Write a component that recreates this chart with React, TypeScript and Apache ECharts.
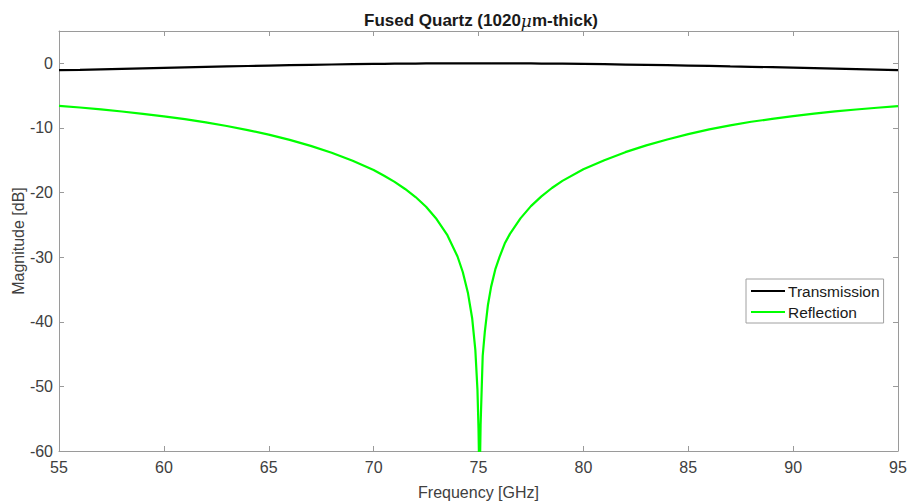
import React, { useEffect, useRef } from "react";
import * as echarts from "echarts";

const titleText = "Fused Quartz (1020{mu|μ}m-thick)";
const xName = "Frequency [GHz]";
const yName = "Magnitude [dB]";
const seriesNames = ["Transmission", "Reflection"];

const freq = [
  55, 56, 57, 58, 59, 60, 61, 62, 63, 64, 65, 66, 67, 68, 69, 70, 70.5, 71, 71.5, 72,
  72.5, 73, 73.5, 74, 74.25, 74.5, 74.7, 74.85, 74.95, 75.0, 75.05, 75.1, 75.2, 75.3,
  75.45, 75.6, 75.8, 76, 76.25, 76.5, 77, 77.5, 78, 78.5, 79, 80, 81, 82, 83, 84, 85, 86,
  87, 88, 89, 90, 91, 92, 93, 94, 95,
];

const reflection = [
  -6.6, -6.84, -7.13, -7.46, -7.83, -8.2, -8.65, -9.15, -9.7, -10.33, -11.03, -11.85, -12.78,
  -13.84, -15.09, -16.5, -17.4, -18.35, -19.45, -20.7, -22.2, -24.1, -26.5, -29.9, -32.3,
  -35.6, -39.5, -44.4, -50.5, -56.5, -66, -56, -45.3, -41.6, -37.4, -34.6, -31.9, -30.0,
  -27.9, -26.4, -24.0, -22.1, -20.6, -19.3, -18.2, -16.4, -15.0, -13.75, -12.7, -11.8,
  -10.95, -10.22, -9.6, -9.05, -8.6, -8.18, -7.8, -7.45, -7.15, -6.88, -6.63,
];

const transmission = [
  -1.07, -1.01, -0.935, -0.86, -0.783, -0.708, -0.634, -0.56, -0.489, -0.42, -0.354,
  -0.293, -0.236, -0.183, -0.137, -0.097, -0.079, -0.063, -0.048, -0.036, -0.025, -0.016,
  -0.009, -0.004, -0.002, -0.001, 0, 0, 0, 0, 0, 0, 0, 0, 0, -0.001, -0.002, -0.003, -0.005,
  -0.008, -0.015, -0.023, -0.034, -0.046, -0.06, -0.1, -0.14, -0.19, -0.235, -0.29, -0.35,
  -0.41, -0.48, -0.54, -0.6, -0.67, -0.74, -0.82, -0.9, -0.98, -1.07,
];

const FONT = 'Arial, "Liberation Sans", Helvetica, sans-serif';
const AXIS_COLOR = "#9a9a9a";
const LABEL_COLOR = "#404040";

export default function App() {
  const ref = useRef<HTMLDivElement>(null);

  useEffect(() => {
    document.body.style.margin = "0";
    if (!ref.current) return;
    const chart = echarts.init(ref.current, undefined, { renderer: "svg" });

    const axisCommon = {
      axisLine: { show: true, onZero: false, lineStyle: { color: AXIS_COLOR, width: 1 } },
      axisTick: { show: true, inside: true, length: 5, lineStyle: { color: AXIS_COLOR } },
      splitLine: { show: false },
    };

    chart.setOption({
      animation: false,
      backgroundColor: "#ffffff",
      textStyle: { fontFamily: FONT },
      title: {
        text: titleText,
        left: 476,
        top: 7,
        textAlign: "center",
        textStyle: {
          fontFamily: FONT,
          fontSize: 17,
          fontWeight: "bold",
          color: "#1a1a1a",
          rich: {
            mu: {
              fontFamily: '"DejaVu Serif", "Times New Roman", serif',
              fontStyle: "italic",
              fontSize: 17,
              fontWeight: "normal",
              color: "#1a1a1a",
            },
          },
        },
      },
      grid: {
        left: 59,
        right: 9,
        top: 31,
        bottom: 52,
        containLabel: false,
        outerBoundsMode: "none",
      },
      legend: {
        orient: "vertical",
        left: 746,
        top: 279,
        padding: [4, 4, 3, 4],
        itemGap: 5,
        itemWidth: 34,
        itemHeight: 16,
        backgroundColor: "#ffffff",
        borderColor: "#a0a0a0",
        borderWidth: 1,
        borderRadius: 0,
        itemStyle: { opacity: 0, color: "rgba(0,0,0,0)", borderWidth: 0 },
        textStyle: { fontFamily: FONT, fontSize: 15.5, color: "#1a1a1a", padding: [0, 0, 0, -2] },
        data: seriesNames,
      },
      xAxis: [
        {
          type: "value",
          min: 55,
          max: 95,
          interval: 5,
          position: "bottom",
          name: xName,
          nameLocation: "middle",
          nameGap: 33,
          nameTextStyle: { fontFamily: FONT, fontSize: 16, color: LABEL_COLOR },
          axisLabel: { fontFamily: FONT, fontSize: 16, color: LABEL_COLOR, margin: 8 },
          ...axisCommon,
        },
        {
          type: "value",
          min: 55,
          max: 95,
          interval: 5,
          position: "top",
          axisLabel: { show: false },
          ...axisCommon,
        },
      ],
      yAxis: [
        {
          type: "value",
          min: -60,
          max: 5,
          interval: 10,
          position: "left",
          name: yName,
          nameLocation: "middle",
          nameGap: 33,
          nameMoveOverlap: false,
          nameTextStyle: { fontFamily: FONT, fontSize: 16, color: LABEL_COLOR },
          axisLabel: {
            fontFamily: FONT,
            fontSize: 16,
            color: LABEL_COLOR,
            margin: 6,
            formatter: (v: number) => (v > 0 ? "" : String(v)),
          },
          ...axisCommon,
        },
        {
          type: "value",
          min: -60,
          max: 5,
          interval: 10,
          position: "right",
          axisLabel: { show: false },
          ...axisCommon,
        },
      ],
      series: [
        {
          name: seriesNames[0],
          type: "line",
          symbol: "none",
          clip: true,
          lineStyle: { color: "#000000", width: 2.2 },
          itemStyle: { color: "#000000" },
          data: freq.map((f, i) => [f, transmission[i]]),
        },
        {
          name: seriesNames[1],
          type: "line",
          symbol: "none",
          clip: true,
          lineStyle: { color: "#00ff00", width: 2.2 },
          itemStyle: { color: "#00ff00" },
          data: freq.map((f, i) => [f, reflection[i]]),
        },
      ],
    });

    return () => chart.dispose();
  }, []);

  return <div ref={ref} style={{ width: 907, height: 503 }} />;
}
